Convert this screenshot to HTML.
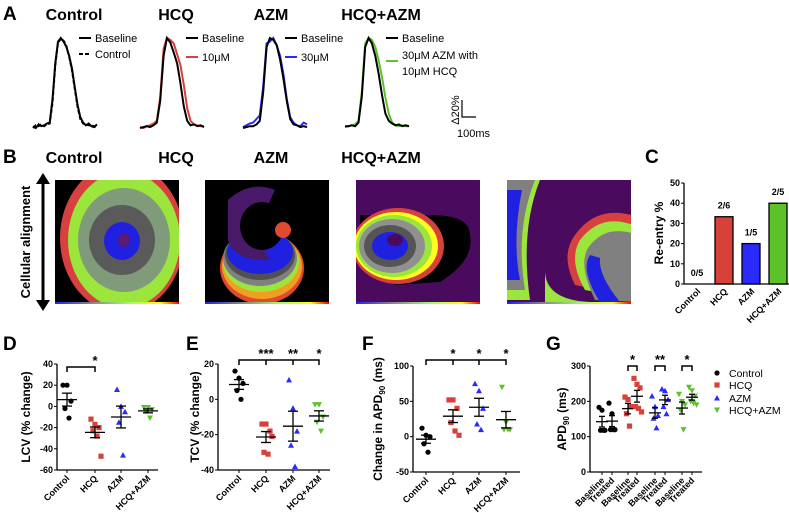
<!DOCTYPE html>
<html><head><meta charset="utf-8">
<style>
html,body{margin:0;padding:0;background:#fff;}
svg{display:block;font-family:"Liberation Sans",Arial,sans-serif;}
.t{font-weight:bold;font-size:16px;text-anchor:middle;}
.L{font-weight:bold;font-size:19px;}
.tk{font-size:9px;font-weight:bold;text-anchor:end;}
.cat{font-size:9px;font-weight:bold;text-anchor:end;}
.yt{font-size:12px;font-weight:bold;text-anchor:middle;}
.lg{font-size:11px;}
</style></head><body>
<svg id="fig" width="789" height="513" viewBox="0 0 789 513" xmlns="http://www.w3.org/2000/svg">
<text class="L" x="3" y="20">A</text>
<text class="L" x="3" y="163">B</text>
<text class="L" x="645" y="163">C</text>
<text class="L" x="3" y="350">D</text>
<text class="L" x="186" y="350">E</text>
<text class="L" x="362" y="350">F</text>
<text class="L" x="546" y="350">G</text>

<text class="t" x="74" y="20">Control</text>
<text class="t" x="176" y="20">HCQ</text>
<text class="t" x="271" y="20">AZM</text>
<text class="t" x="381" y="20">HCQ+AZM</text>
<g id="tracesA"></g>
<g class="lg">
<line x1="79" y1="38" x2="91" y2="38" stroke="#000" stroke-width="2"/><text x="95" y="42">Baseline</text>
<line x1="79" y1="54" x2="91" y2="54" stroke="#000" stroke-width="2" stroke-dasharray="4,2"/><text x="95" y="58">Control</text>
<line x1="186" y1="38" x2="198" y2="38" stroke="#000" stroke-width="2"/><text x="202" y="42">Baseline</text>
<line x1="186" y1="57" x2="198" y2="57" stroke="#d8403a" stroke-width="2"/><text x="202" y="61">10μM</text>
<line x1="285" y1="38" x2="297" y2="38" stroke="#000" stroke-width="2"/><text x="301" y="42">Baseline</text>
<line x1="285" y1="57" x2="297" y2="57" stroke="#2a2aff" stroke-width="2"/><text x="301" y="61">30μM</text>
<line x1="386" y1="38" x2="398" y2="38" stroke="#000" stroke-width="2"/><text x="402" y="42">Baseline</text>
<line x1="386" y1="61" x2="398" y2="61" stroke="#5cc22a" stroke-width="2"/><text x="402" y="59">30μM AZM with</text><text x="402" y="75">10μM HCQ</text>
</g>
<g>
<polyline points="462,100 462,117 476,117" fill="none" stroke="#000" stroke-width="1.2"/>
<text x="459" y="110" font-size="11" transform="rotate(-90 459 110)" text-anchor="middle">Δ20%</text>
<text x="457" y="137" font-size="11">100ms</text>
</g>

<text class="t" x="74" y="163">Control</text>
<text class="t" x="176" y="163">HCQ</text>
<text class="t" x="271" y="163">AZM</text>
<text class="t" x="381" y="163">HCQ+AZM</text>
<g>
<line x1="43" y1="182" x2="43" y2="302" stroke="#000" stroke-width="3"/>
<polygon points="36,184 50,184 43,173" fill="#000"/><polygon points="36,300 50,300 43,311" fill="#000"/>
<text x="30" y="242" font-size="13" font-weight="bold" text-anchor="middle" transform="rotate(-90 30 242)">Cellular alignment</text>
</g>
<defs>
<linearGradient id="cb" x1="0" x2="1"><stop offset="0" stop-color="#2020ff"/><stop offset="0.3" stop-color="#888"/><stop offset="0.6" stop-color="#9f6"/><stop offset="0.85" stop-color="#ff0"/><stop offset="1" stop-color="#f00"/></linearGradient>
<clipPath id="c1"><rect x="55" y="180" width="124" height="122"/></clipPath>
<clipPath id="c2"><rect x="205" y="180" width="124" height="122"/></clipPath>
<clipPath id="c3"><rect x="356" y="180" width="124" height="122"/></clipPath>
<clipPath id="c4"><rect x="507" y="180" width="124" height="122"/></clipPath>
</defs>
<g clip-path="url(#c1)">
<rect x="55" y="180" width="124" height="122" fill="#000"/>
<ellipse cx="122" cy="238" rx="62" ry="75" fill="#d84040"/>
<ellipse cx="124" cy="240" rx="56" ry="68" fill="#9be53c"/>
<ellipse cx="124" cy="240" rx="46" ry="52" fill="#7f9b7a"/>
<ellipse cx="122" cy="240" rx="33" ry="35" fill="#5a5a5a"/>
<ellipse cx="122" cy="241" rx="18" ry="19" fill="#2020e0"/>
<ellipse cx="124" cy="240" rx="6" ry="7" fill="#5a1a7a"/>
</g>
<g clip-path="url(#c2)">
<rect x="205" y="180" width="124" height="122" fill="#000"/>
<ellipse cx="262" cy="268" rx="42" ry="36" fill="#e04a30"/>
<ellipse cx="262" cy="266" rx="40" ry="33" fill="#f0a020"/>
<ellipse cx="261" cy="262" rx="38" ry="30" fill="#9be53c"/>
<ellipse cx="260" cy="258" rx="37" ry="28" fill="#808080"/>
<ellipse cx="260" cy="255" rx="35" ry="25" fill="#505050"/>
<ellipse cx="260" cy="252" rx="33" ry="22" fill="#2020e0"/>
<path d="M228,200 Q250,180 275,190 L268,205 Q245,200 242,225 Q244,245 262,245 L270,260 Q235,262 228,240 Z" fill="#4a1a6a"/>
<ellipse cx="262" cy="226" rx="22" ry="24" fill="#000"/>
<ellipse cx="283" cy="230" rx="8" ry="8" fill="#e04a30"/>
</g>
<g clip-path="url(#c3)">
<rect x="356" y="180" width="124" height="122" fill="#4a0a5e"/>
<path d="M430,215 Q470,215 470,235 Q475,260 440,282 L395,285 L360,260 L360,215 Z" fill="#000"/>
<ellipse cx="398" cy="246" rx="46" ry="38" fill="#d84040"/>
<ellipse cx="396" cy="246" rx="42" ry="34" fill="#ffff20"/>
<ellipse cx="394" cy="246" rx="38" ry="31" fill="#9be53c"/>
<ellipse cx="392" cy="246" rx="33" ry="27" fill="#909090"/>
<ellipse cx="390" cy="246" rx="26" ry="21" fill="#555"/>
<ellipse cx="390" cy="246" rx="18" ry="14" fill="#2020e0"/>
<ellipse cx="395" cy="240" rx="8" ry="6" fill="#4a0a5e"/>
</g>
<g clip-path="url(#c4)">
<rect x="507" y="180" width="124" height="122" fill="#4a0a5e"/>
<path d="M507,180 L540,180 Q520,230 530,300 L507,300 Z" fill="#9be53c"/>
<path d="M507,180 L535,180 Q515,230 525,290 L507,290 Z" fill="#808080"/>
<path d="M507,190 L522,190 Q512,240 520,280 L507,280 Z" fill="#2020e0"/>
<path d="M645,220 Q600,200 575,235 Q560,255 575,285 L655,300 Z" fill="#d84040"/>
<path d="M640,228 Q603,210 580,240 Q568,260 585,290 L640,300 Z" fill="#9be53c"/>
<path d="M640,236 Q606,222 588,248 Q578,265 595,300 L640,302 Z" fill="#808080"/>
<path d="M590,255 Q580,270 600,302 L620,302 Q598,275 600,258 Z" fill="#2020e0"/>
<path d="M545,270 Q545,300 590,302 L545,302 Z" fill="#9be53c"/>
</g>
<g>
<rect x="55" y="302" width="124" height="2" fill="url(#cb)"/><rect x="205" y="302" width="124" height="2" fill="url(#cb)"/>
<rect x="356" y="302" width="124" height="2" fill="url(#cb)"/><rect x="507" y="302" width="124" height="2" fill="url(#cb)"/>
</g>
<g id="panelC"></g>
<g id="panelD"></g>
<g id="panelE"></g>
<g id="panelF"></g>
<g id="panelG"></g>
</svg>
<script>
const NS="http://www.w3.org/2000/svg";
const traceStepMs=20;
const ctrlBase=[2,0,4,2,3,5,6,32,72,96,100,96,90,80,66,46,26,12,6,3,5,2,1,4];
const ctrlCtrl=[0,3,2,4,2,4,5,28,70,95,99,97,91,79,64,44,24,10,5,4,3,3,2,1];
const hcqBase=[0,1,2,1,3,6,30,80,100,95,84,72,50,24,8,3,4,2,3,1];
const hcqDrug=[1,0,2,3,5,8,34,88,100,98,94,82,70,48,22,8,4,3,2,2];
const azmBase=[0,1,2,2,4,8,40,90,100,98,92,76,55,30,10,4,3,1,2,1];
const azmDrug=[1,3,5,6,10,14,46,94,96,100,92,80,60,32,12,6,3,2,6,4];
const comboBase=[2,2,3,2,6,35,90,100,94,80,60,36,16,8,5,3,4,2,3,2];
const comboDrug=[1,2,3,4,8,40,94,100,98,90,75,56,34,16,6,3,2,3,2,2];
const traceGroups=[
 {x0:33,series:[[ctrlBase,"#000",""],[ctrlCtrl,"#000","4,2"]]},
 {x0:140,series:[[hcqDrug,"#d8403a",""],[hcqBase,"#000",""]]},
 {x0:243,series:[[azmDrug,"#2a2aff",""],[azmBase,"#000",""]]},
 {x0:345,series:[[comboDrug,"#5cc22a",""],[comboBase,"#000",""]]}
];
const traceWidthPx=64, yBase=128, pxPerPct=0.9;
const tg=document.getElementById('tracesA');
traceGroups.forEach((g)=>{
  g.series.forEach(([arr,col,dash])=>{
    const p=document.createElementNS(NS,'polyline');
    const dx=traceWidthPx/(arr.length-1);
    p.setAttribute('points',arr.map((v,i)=>(g.x0+i*dx).toFixed(1)+','+(yBase-v*pxPerPct).toFixed(1)).join(' '));
    p.setAttribute('fill','none');p.setAttribute('stroke',col);p.setAttribute('stroke-width','2');
    if(dash)p.setAttribute('stroke-dasharray',dash);
    
    
    tg.appendChild(p);
  });
});

function el(parent,tag,attrs,text){const e=document.createElementNS(NS,tag);for(const k in attrs)e.setAttribute(k,attrs[k]);if(text!==undefined)e.textContent=text;parent.appendChild(e);return e;}

const cCats=["Control","HCQ","AZM","HCQ+AZM"];
const cVals=[0,33.3,20,40];
const cLabels=["0/5","2/6","1/5","2/5"];
const cColors=["#000","#d8403a","#2a2aff","#5cc22a"];
const cTicks=[0,10,20,30,40,50];
(function(){
 const g=document.getElementById('panelC');
 const ax=684,xe=789,y0=284,y1=183,sc=v=>y0-(y0-y1)*v/50;
 const bx=[697,724,751,778];
 el(g,'line',{x1:ax,y1:y1,x2:ax,y2:y0,stroke:'#000','stroke-width':1.3});
 el(g,'line',{x1:ax,y1:y0,x2:xe,y2:y0,stroke:'#000','stroke-width':1.3});
 cTicks.forEach(t=>{el(g,'line',{x1:ax-3,y1:sc(t),x2:ax,y2:sc(t),stroke:'#000'});el(g,'text',{x:ax-4,y:sc(t)+3,class:'tk'},t);});
 el(g,'text',{x:663,y:233,class:'yt',transform:'rotate(-90 663 233)'},'Re-entry %');
 cVals.forEach((v,i)=>{
  const r=el(g,'rect',{x:bx[i]-9,y:sc(v),width:18,height:y0-sc(v),fill:cColors[i],stroke:'#000','stroke-width':1.3});
  
  
  el(g,'text',{x:bx[i],y:sc(v)-8,'font-size':9,'font-weight':'bold','text-anchor':'middle'},cLabels[i]);
  el(g,'text',{x:bx[i]+4,y:y0+8,class:'cat',transform:`rotate(-45 ${bx[i]+4} ${y0+8})`},cCats[i]);
 });
})();

const dCats=["Control","HCQ","AZM","HCQ+AZM"];
const dCtrl=[20,20,5,-2,-11], dHcq=[-12,-17,-20,-23,-28,-47], dAzm=[16,0,-5,-15,-46], dCombo=[-1,-1,-3,-5,-11];
const dTicks=[40,20,0,-20,-40,-60];
const eCtrl=[16,12,9,5,0], eHcq=[-14,-14,-18,-30,-31,-21], eAzm=[11,-5,-18,-26,-38], eCombo=[-3,-3,-10,-13,-18];
const eTicks=[20,0,-20,-40];
const fCtrl=[12,2,0,-10,-22], fHcq=[52,52,40,20,8,2], fAzm=[75,65,40,18,10], fCombo=[70,20,10,10,10];
const fTicks=[100,50,0,-50];
const gCats=["Baseline","Treated","Baseline","Treated","Baseline","Treated","Baseline","Treated"];
const gCtrlB=[183,175,118,118,118], gCtrlT=[195,165,120,120,120];
const gHcqB=[212,205,185,165,130], gHcqT=[265,248,238,185,180,170];
const gAzmB=[215,185,160,152,125], gAzmT=[235,230,205,185,165];
const gComboB=[220,200,190,175,120], gComboT=[240,230,215,200,195,190];
const gTicks=[300,200,100,0];

const COLS=["#000","#d8403a","#2a2aff","#5cc22a"];
function marker(g,shape,x,y,c){
 let e;
 if(shape==0)e=el(g,'circle',{cx:x,cy:y,r:2.6,fill:c});
 else if(shape==1)e=el(g,'rect',{x:x-2.6,y:y-2.6,width:5.2,height:5.2,fill:c});
 else if(shape==2)e=el(g,'polygon',{points:`${x},${y-3} ${x-3},${y+2.5} ${x+3},${y+2.5}`,fill:c});
 else e=el(g,'polygon',{points:`${x},${y+3} ${x-3},${y-2.5} ${x+3},${y-2.5}`,fill:c});
 
 
}
function meanSem(a){const m=a.reduce((s,v)=>s+v,0)/a.length;const sd=Math.sqrt(a.reduce((s,v)=>s+(v-m)**2,0)/(a.length-1));return [m,sd/Math.sqrt(a.length)];}
function scatterPanel(id,o){
 const g=document.getElementById(id);
 const sc=v=>o.yb-(o.yb-o.yt)*(v-o.min)/(o.max-o.min);
 el(g,'line',{x1:o.ax,y1:o.yt,x2:o.ax,y2:o.yb,stroke:'#000','stroke-width':1.3});
 el(g,'line',{x1:o.ax,y1:o.yb,x2:o.xe,y2:o.yb,stroke:'#000','stroke-width':1.3});
 o.ticks.forEach(t=>{el(g,'line',{x1:o.ax-3,y1:sc(t),x2:o.ax,y2:sc(t),stroke:'#000'});el(g,'text',{x:o.ax-4,y:sc(t)+3,class:'tk'},t);});
 const yl=el(g,'text',{x:o.ylx,y:(o.yt+o.yb)/2,class:'yt',transform:`rotate(-90 ${o.ylx} ${(o.yt+o.yb)/2})`});
 yl.innerHTML=o.ytitle;
 o.groups.forEach((arr,i)=>{
  const x=o.xs[i], c=COLS[o.color[i]], sh=o.color[i];
  const n=arr.length, sp=o.spread||4;
  arr.forEach((v,j)=>{const off=(j%3-1)*sp+(j>=3?sp/2:0);marker(g,sh,x+off,sc(v),c);});
  const [m,s]=meanSem(arr);
  el(g,'line',{x1:x-o.mw,y1:sc(m),x2:x+o.mw,y2:sc(m),stroke:'#000','stroke-width':1.3});
  el(g,'line',{x1:x,y1:sc(m+s),x2:x,y2:sc(m-s),stroke:'#000','stroke-width':1.3});
  el(g,'line',{x1:x-o.mw/2,y1:sc(m+s),x2:x+o.mw/2,y2:sc(m+s),stroke:'#000','stroke-width':1.3});
  el(g,'line',{x1:x-o.mw/2,y1:sc(m-s),x2:x+o.mw/2,y2:sc(m-s),stroke:'#000','stroke-width':1.3});
  el(g,'line',{x1:x,y1:o.yb,x2:x,y2:o.yb+3,stroke:'#000'});
  const lx=x+3,ly=o.yb+9;
  el(g,'text',{x:lx,y:ly,class:'cat',transform:`rotate(-45 ${lx} ${ly})`},o.cats[i]);
 });
 (o.brackets||[]).forEach(b=>{
  const x1=o.xs[b[0]],x2=o.xs[b[1]],y=b[2];
  el(g,'polyline',{points:`${x1},${y+5} ${x1},${y} ${x2},${y} ${x2},${y+5}`,fill:'none',stroke:'#000','stroke-width':1.5});
  (b[3]||[]).forEach(k=>{el(g,'line',{x1:o.xs[k],y1:y,x2:o.xs[k],y2:y+5,stroke:'#000','stroke-width':1.5});});
  b[4].forEach((st,k)=>{const sx=b[6]?(x1+x2)/2:o.xs[b[5][k]];el(g,'text',{x:sx,y:y-2,'font-size':13,'font-weight':'bold','text-anchor':'middle'},st);});
 });
}
scatterPanel('panelD',{ax:57,xe:158,yt:364,yb:470,min:-60,max:40,ticks:dTicks,xs:[67,95,121,148],mw:10,
 groups:[dCtrl,dHcq,dAzm,dCombo],color:[0,1,2,3],cats:dCats,ylx:30,ytitle:'LCV (% change)',
 brackets:[[0,1,367,[],["*"],[1]]]});
scatterPanel('panelE',{ax:218,xe:330,yt:364,yb:470,min:-40,max:20,ticks:eTicks,xs:[239,266,293,319],mw:10,
 groups:[eCtrl,eHcq,eAzm,eCombo],color:[0,1,2,3],cats:dCats,ylx:199,ytitle:'TCV (% change)',
 brackets:[[0,3,360,[1,2],["***","**","*"],[1,2,3]]]});
scatterPanel('panelF',{ax:413,xe:520,yt:366,yb:472,min:-50,max:100,ticks:fTicks,xs:[426,453,479,506],mw:10,
 groups:[fCtrl,fHcq,fAzm,fCombo],color:[0,1,2,3],cats:dCats,ylx:382,ytitle:'Change in APD<tspan font-size="8" dy="3">90</tspan><tspan dy="-3"> (ms)</tspan>',
 brackets:[[0,3,360,[1,2],["*","*","*"],[1,2,3]]]});
scatterPanel('panelG',{ax:590,xe:702,yt:366,yb:472,min:0,max:300,ticks:gTicks,xs:[602,612,628,637,655,665,682,692],mw:6,spread:3,
 groups:[gCtrlB,gCtrlT,gHcqB,gHcqT,gAzmB,gAzmT,gComboB,gComboT],color:[0,0,1,1,2,2,3,3],cats:gCats,ylx:566,ytitle:'APD<tspan font-size="8" dy="3">90</tspan><tspan dy="-3"> (ms)</tspan>',
 brackets:[[2,3,366,[],["*"],[2],true],[4,5,366,[],["**"],[4],true],[6,7,366,[],["*"],[6],true]]});
(function(){
 const g=document.getElementById('panelG');
 const names=["Control","HCQ","AZM","HCQ+AZM"], ys=[373,385,398,410];
 names.forEach((n,i)=>{marker(g,i,717,ys[i],COLS[i]);const t=el(g,'text',{x:729,y:ys[i]+4,'font-size':10.5},n);});
})();
</script>
</body></html>
